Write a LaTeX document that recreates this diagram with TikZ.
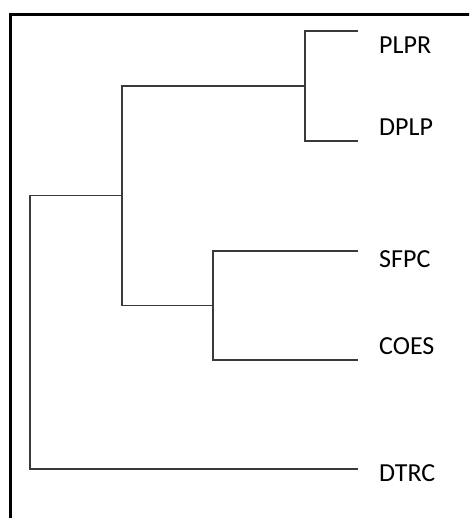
\documentclass[tikz,border=0pt]{standalone}
\usepackage{fontspec}
\setmainfont{Carlito}
\usetikzlibrary{positioning}
\definecolor{LinkGray}{HTML}{3A3A3A}
\tikzset{
    % Dendrogram branch lines
    link/.style={
        draw=LinkGray,
        line width=1.1pt
    },
    % Frame around the plot
    frame/.style={
        draw=black,
        line width=2.6pt
    },
    leaf label/.style={
        anchor=west,
        inner sep=0pt,
        font=\fontsize{26}{30}\selectfont
    }
}
\begin{document}
\begin{tikzpicture}[x=1pt, y=-1pt]
        \useasboundingbox (0,0) rectangle (469,518);
        \begin{scope}
            \clip (0,0) rectangle (469,518);
            \draw[frame] (10.5,14.5) rectangle (490,540);
        \end{scope}

        % Leaf ends
        \coordinate (plpr end) at (358,31);
        \coordinate (dplp end) at (358,141);
        \coordinate (sfpc end) at (358,251);
        \coordinate (coes end) at (358,360);
        \coordinate (dtrc end) at (358,469);

        % Merge points
        \coordinate (merge a) at (305,86);
        \coordinate (merge b) at (213,305.5);
        \coordinate (merge c) at (122,195.5);
        \coordinate (merge d) at (30,332);

        % Labels
        \node[leaf label] (plpr) at (379,45) {PLPR};
        \node[leaf label] (dplp) at (379,127) {DPLP};
        \node[leaf label] (sfpc) at (379,259.5) {SFPC};
        \node[leaf label] (coes) at (379,346) {COES};
        \node[leaf label] (dtrc) at (379,473) {DTRC};

        % Branches
        \draw[link] (plpr end) -| (merge a) |- (dplp end);
        \draw[link] (sfpc end) -| (merge b) |- (coes end);
        \draw[link] (merge a) -| (merge c) |- (merge b);
        \draw[link] (merge c) -| (merge d) |- (dtrc end);
    \end{tikzpicture}
\end{document}
